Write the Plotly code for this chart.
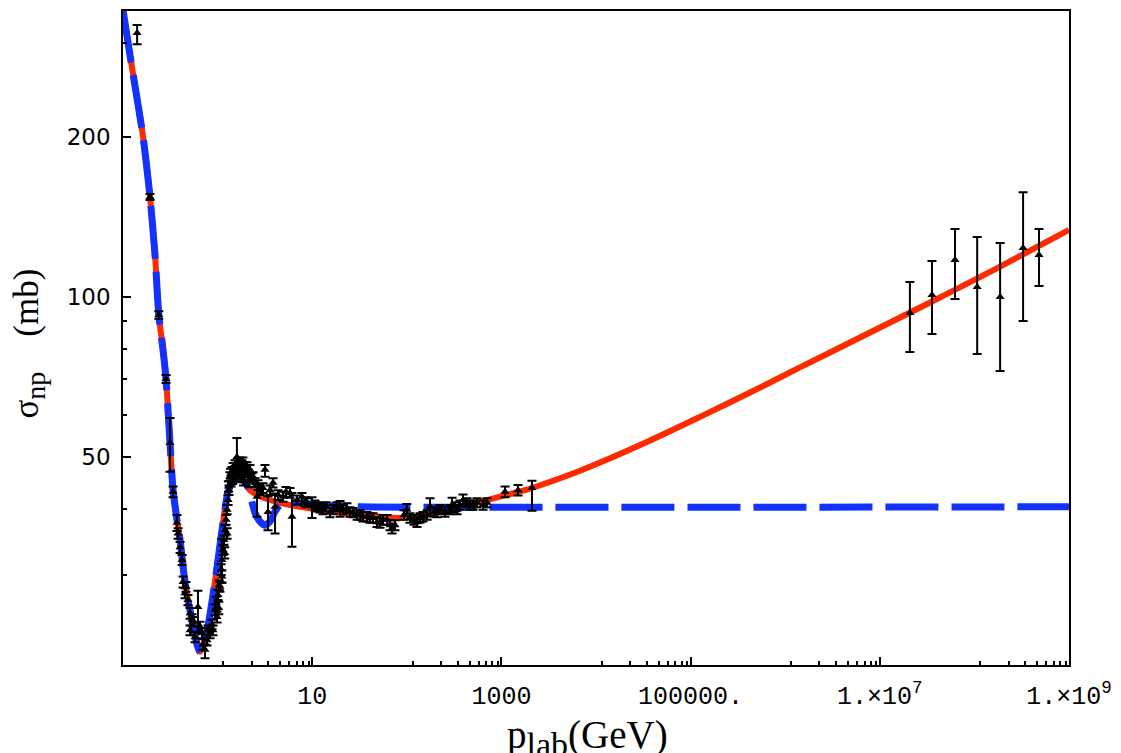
import plotly.graph_objects as go

# ---------------- data ----------------
# fit curve (red, solid): p_lab [GeV], sigma_np [mb]
red_p = [0.1, 0.1186, 0.163, 0.193, 0.218, 0.239, 0.265, 0.285, 0.314, 0.338, 0.372, 0.401,
         0.441, 0.486, 0.549, 0.605, 0.652, 0.701, 0.773, 0.894, 1.01, 1.14, 1.29, 1.46, 1.64,
         1.85, 2.20, 2.81, 3.58, 4.57, 7.43, 12.1, 19.7, 32.0, 52.1, 84.8, 138, 224, 365, 639,
         967, 1778, 3266, 5998, 11020, 37240, 125700, 425000, 1.43e6, 4.84e6, 1.64e7, 5.52e7,
         1.87e8, 1.0e9]
red_sigma = [346.6, 285.0, 200.0, 154.2, 119.9, 92.5, 79.5, 70.1, 53.1, 43.3, 38.1, 34.9,
             30.1, 26.9, 24.2, 22.2, 21.5, 22.2, 23.5, 27.5, 32.0, 37.6, 43.0, 45.0, 45.9,
             45.2, 43.3, 42.2, 41.5, 41.0, 40.3, 39.8, 39.3, 38.9, 38.6, 38.4, 38.7, 39.4, 40.3,
             41.3, 42.1, 43.3, 44.9, 46.7, 48.8, 53.7, 59.5, 66.1, 73.7, 82.1, 91.5, 102.0,
             114.1, 133.7]

# fit curve (blue, dashed)
blue_p = [0.1, 0.1186, 0.163, 0.193, 0.218, 0.239, 0.265, 0.285, 0.314, 0.338, 0.372, 0.401,
          0.441, 0.486, 0.549, 0.605, 0.652, 0.701, 0.773, 0.894, 1.01, 1.14, 1.29, 1.46, 1.64,
          1.85, 2.05, 2.20, 2.49, 2.81, 3.17, 3.58, 4.05, 4.57, 5.82, 7.43, 12.1, 32.0, 1.0e9]
blue_sigma = [346.6, 285.0, 200.0, 154.2, 119.9, 92.5, 79.5, 70.1, 53.1, 43.3, 38.1, 34.9,
              30.1, 26.9, 24.2, 22.2, 21.5, 22.2, 23.5, 27.5, 32.0, 37.6, 43.0, 45.0, 45.9,
              45.2, 44.3, 42.6, 39.2, 37.8, 37.2, 37.8, 39.5, 40.6, 41.1, 41.0, 40.6, 40.3, 40.3]

# accelerator data
acc_p = [0.141, 0.193, 0.239, 0.285, 0.314, 0.338, 0.372, 0.382, 0.401, 0.421, 0.431, 0.452,
         0.463, 0.486, 0.511, 0.511, 0.536, 0.549, 0.577, 0.620, 0.652, 0.684, 0.701, 0.736,
         0.773, 0.792, 0.832, 0.873, 0.894, 0.939, 0.986, 1.01, 1.04, 1.06, 1.09, 1.11, 1.14,
         1.17, 1.20, 1.23, 1.26, 1.26, 1.29, 1.32, 1.35, 1.39, 1.42, 1.46, 1.49, 1.53, 1.57,
         1.60, 1.64, 1.68, 1.73, 1.77, 1.81, 1.85, 1.90, 1.95, 2.05, 2.10, 2.20, 2.31, 2.37,
         2.49, 2.61, 2.67, 2.81, 3.02, 3.17, 3.41, 3.58, 3.85, 4.05, 4.35, 4.91, 5.28, 5.82,
         6.11, 6.90, 7.80, 8.39, 8.81, 9.95, 10.7, 11.3, 12.1, 13.0, 14.0, 15.4, 16.6, 18.3,
         19.7, 21.2, 23.3, 25.1, 27.0, 29.8, 32.0, 34.4, 37.9, 40.8, 43.9, 48.4, 52.1, 56.0,
         61.8, 66.4, 69.8, 75.0, 93.4, 100, 108, 119, 128, 138, 148, 164, 176, 194, 208, 224,
         253, 286, 301, 324, 340, 365, 393, 433, 466, 501, 552, 639, 705, 1092, 1499, 2105,
         1.30, 1.37, 1.44, 1.51, 1.58, 1.66, 1.75, 1.88, 2.00, 2.15, 1.11, 1.19, 0.97, 1.03]
acc_sigma = [314, 154.2, 92.5, 70.1, 53.1, 43.0, 37.6, 35.9, 33.8, 32.0, 29.1, 27.7,
             28.5, 26.9, 25.4, 23.6, 24.7, 24.5, 22.9, 26.1, 24.0, 23.3, 22.2, 21.7,
             22.6, 23.6, 23.3, 24.2, 23.6, 25.8, 25.0, 27.5, 28.7, 28.5, 30.7, 32.0, 33.4,
             34.9, 36.4, 38.1, 39.8, 35.9, 41.5, 43.3, 45.9, 44.9, 46.9, 47.7, 46.3, 48.3, 47.3,
             50.0, 48.7, 47.7, 48.9, 47.3, 48.3, 48.9, 46.9, 47.9, 47.9, 46.3, 47.3, 45.7, 45.9,
             44.7, 42.1, 44.3, 43.3, 43.7, 47.3, 39.4, 43.3, 44.7, 40.3, 42.4, 42.1, 43.0, 42.8,
             38.6, 41.5, 42.1, 41.2, 41.0, 40.6, 40.6, 40.3, 40.1, 39.8, 40.3, 39.3, 39.8, 40.3,
             40.1, 39.8, 40.1, 39.4, 39.3, 38.9, 38.9, 38.6, 38.6, 38.4, 38.4, 37.7, 37.6, 38.1,
             38.1, 37.2, 36.7, 37.2, 38.9, 39.8, 38.4, 38.1, 37.7, 38.4, 38.6, 38.9, 40.3, 39.4,
             39.3, 39.8, 39.4, 39.8, 40.6, 40.3, 39.8, 40.6, 41.5, 41.0, 40.6, 40.6, 41.0, 40.6,
             41.0, 43.0, 43.3, 43.7,
             44.0, 46.5, 45.5, 47.0, 46.0, 46.6, 45.8, 45.2, 46.8, 44.9, 29.8, 33.0, 26.6, 26.0]
acc_err_up = [11, 2.0, 1.5, 1.2, 6.1, 1.0, 1.3, 0.8, 0.8, 0.7, 0.7, 0.6,
              0.6, 0.6, 0.6, 0.5, 0.6, 0.5, 0.5, 1.9, 0.5, 0.5, 0.5, 0.5,
              0.5, 0.5, 0.5, 0.5, 0.5, 0.6, 0.6, 0.6, 0.6, 0.6, 0.7, 3.1, 0.7,
              0.7, 0.8, 0.8, 0.8, 0.8, 0.9, 0.9, 0.9, 0.9, 1.0, 1.0, 1.0, 1.0, 1.0,
              4.3, 1.0, 1.0, 1.0, 1.0, 1.0, 1.0, 1.0, 1.0, 1.0, 1.0, 1.0, 0.9, 0.9,
              0.9, 2.2, 0.9, 0.9, 0.9, 1.0, 2.8, 0.9, 0.9, 2.4, 0.9, 0.9, 0.9, 0.9,
              4.2, 0.8, 0.7, 0.8, 0.8, 1.4, 0.8, 0.8, 0.8, 0.8, 0.8, 0.8, 0.8, 0.8,
              1.2, 0.8, 0.8, 0.8, 0.8, 0.8, 0.8, 0.8, 0.8, 0.8, 0.8, 0.8, 0.8, 0.8,
              0.8, 0.8, 0.8, 0.8, 0.8, 1.0, 0.8, 0.8, 0.8, 0.8, 0.8, 0.8, 1.5, 0.8,
              0.8, 0.8, 0.8, 0.8, 1.3, 0.8, 0.8, 0.8, 1.0, 0.8, 0.8, 0.8, 0.8, 0.8,
              0.8, 1.0, 1.0, 1.4,
              1.0, 1.0, 1.0, 1.0, 1.0, 1.0, 1.0, 1.0, 1.0, 1.0, 0.8, 0.8, 0.7, 0.7]
acc_err_dn = [15, 2.0, 1.5, 1.2, 6.2, 1.0, 1.3, 0.8, 0.8, 0.7, 0.7, 0.6,
              0.6, 0.6, 0.6, 0.5, 0.6, 0.5, 0.5, 2.8, 0.5, 0.5, 0.5, 0.8,
              0.5, 0.5, 0.5, 0.5, 0.5, 0.6, 0.6, 0.6, 0.6, 0.6, 0.7, 3.0, 0.7,
              0.7, 0.8, 0.8, 0.8, 0.8, 0.9, 0.9, 0.9, 0.9, 1.0, 1.0, 1.0, 1.0, 1.0,
              3.3, 1.0, 1.0, 1.0, 1.0, 1.0, 1.0, 1.0, 1.0, 1.0, 1.0, 1.0, 0.9, 0.9,
              0.9, 3.5, 0.9, 0.9, 0.9, 1.4, 3.0, 0.9, 0.9, 4.4, 0.9, 0.9, 0.9, 0.9,
              4.7, 0.8, 1.3, 0.8, 0.8, 2.2, 0.8, 0.8, 0.8, 0.8, 0.8, 0.8, 0.8, 0.8,
              1.5, 0.8, 0.8, 0.8, 0.8, 0.8, 0.8, 0.8, 0.8, 0.8, 0.8, 0.8, 0.8, 0.8,
              0.8, 0.8, 0.8, 0.8, 0.8, 1.0, 0.8, 0.8, 0.8, 0.8, 0.8, 0.8, 1.5, 0.8,
              0.8, 0.8, 0.8, 0.8, 1.3, 0.8, 0.8, 0.8, 1.0, 0.8, 0.8, 0.8, 0.8, 0.8,
              0.8, 1.0, 1.0, 4.1,
              1.0, 1.0, 1.0, 1.0, 1.0, 1.0, 1.0, 1.0, 1.0, 1.0, 0.8, 0.8, 0.7, 0.7]

# cosmic-ray data
cr_p = [2.08e7, 3.56e7, 6.24e7, 1.07e8, 1.87e8, 3.27e8, 4.82e8]
cr_sigma = [93.3, 100.9, 117.4, 104.4, 100.0, 123.7, 120.0]
cr_err_up = [13.4, 16.0, 16.9, 25.3, 26.4, 33.8, 14.3]
cr_err_dn = [14.5, 15.7, 18.3, 26.3, 27.4, 33.6, 15.1]

# axis ticks
x_major_vals = [10, 1000, 1e5, 1e7, 1e9]
x_major_text = ["10", "1000", "100000.", "1.\u00d710<sup>7</sup>", "1.\u00d710<sup>9</sup>"]
x_minor_factors = [1.15, 2.3, 3.45, 4.6, 5.75, 6.9, 8.05, 9.2]
x_minor_vals = [f * m / 10 for m in x_major_vals for f in x_minor_factors]
y_major_vals = [50, 100, 200]
y_major_text = ["50", "100", "200"]
y_minor_vals = [30, 40, 60, 70, 80, 90, 300]

# ---------------- figure ----------------
RED = "#ff2a00"
BLUE = "#1432ff"

fig = go.Figure()
fig.add_trace(go.Scatter(x=red_p, y=red_sigma, mode="lines",
                         line=dict(color=RED, width=6, shape="spline", smoothing=0.8),
                         showlegend=False, hoverinfo="skip"))
fig.add_trace(go.Scatter(x=blue_p, y=blue_sigma, mode="lines",
                         line=dict(color=BLUE, width=7, dash="53px,13px",
                                   shape="spline", smoothing=0.6),
                         showlegend=False, hoverinfo="skip"))
err_style = dict(type="data", symmetric=False, color="black", thickness=2, width=4.5)
fig.add_trace(go.Scatter(x=acc_p, y=acc_sigma, mode="markers",
                         marker=dict(symbol="triangle-up", size=8, color="black"),
                         error_y=dict(array=acc_err_up, arrayminus=acc_err_dn, **err_style),
                         showlegend=False))
fig.add_trace(go.Scatter(x=cr_p, y=cr_sigma, mode="markers",
                         marker=dict(symbol="triangle-up", size=8, color="black"),
                         error_y=dict(array=cr_err_up, arrayminus=cr_err_dn, **err_style),
                         showlegend=False))

# the page body has an 8 px margin, so the figure is 8 px smaller than the window
fig.update_layout(
    width=1113, height=745,
    margin=dict(l=115, r=52, t=3, b=88, autoexpand=False),
    paper_bgcolor="white", plot_bgcolor="white",
    xaxis=dict(type="log", range=[-1, 9], showgrid=False, zeroline=False,
               showline=True, linecolor="black", linewidth=1.5, mirror=True,
               ticks="inside", ticklen=8, tickwidth=1.5, tickcolor="black",
               tickmode="array", tickvals=x_major_vals, ticktext=x_major_text,
               tickfont=dict(family="Liberation Mono", size=25, color="black"),
               ticklabelstandoff=7,
               minor=dict(tickmode="array", tickvals=x_minor_vals, ticks="inside",
                          ticklen=4, tickwidth=1.5, tickcolor="black", showgrid=False)),
    yaxis=dict(type="log", range=[1.3076, 2.5381], showgrid=False, zeroline=False,
               showline=True, linecolor="black", linewidth=1.5, mirror=True,
               ticks="inside", ticklen=8, tickwidth=1.5, tickcolor="black",
               tickmode="array", tickvals=y_major_vals, ticktext=y_major_text,
               tickfont=dict(family="DejaVu Sans", size=23, color="black"),
               ticklabelstandoff=6,
               minor=dict(tickmode="array", tickvals=y_minor_vals, ticks="inside",
                          ticklen=4, tickwidth=1.5, tickcolor="black", showgrid=False)),
    annotations=[
        dict(text="p<sub><span style='font-size:34px'>lab</span></sub>(GeV)",
             xref="paper", yref="paper",
             x=0.4915, y=-0.07, xanchor="center", yanchor="top", showarrow=False,
             font=dict(family="Liberation Serif", size=39, color="black")),
        dict(text="\u03c3<sub><span style='font-size:28px'>np</span></sub>"
                  "\u00a0\u00a0\u00a0\u00a0(mb)",
             xref="paper", yref="paper",
             x=-0.099, y=0.492, xanchor="center", yanchor="middle", showarrow=False,
             textangle=-90,
             font=dict(family="Liberation Serif", size=35, color="black")),
    ],
)

fig.write_html("out.html")
